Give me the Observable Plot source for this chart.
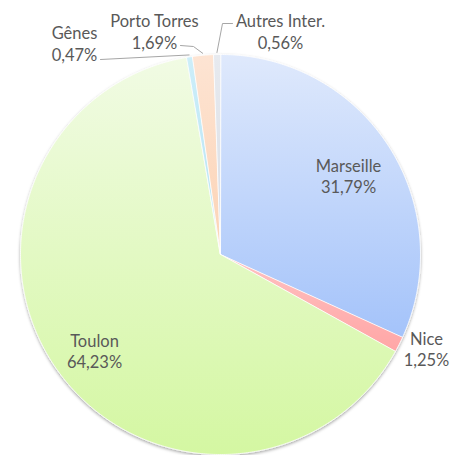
<!DOCTYPE html>
<html>
<head>
<meta charset="utf-8">
<script src="https://cdn.jsdelivr.net/npm/d3@7"></script>
<script src="https://cdn.jsdelivr.net/npm/@observablehq/plot@0.6"></script>
<style>
  html, body { margin: 0; padding: 0; background: #fff; }
  #chart svg { display: block; }
</style>
</head>
<body>
<div id="chart"></div>
<script>
// ---- data ----
const categories = ["Marseille", "Nice", "Toulon", "Gênes", "Porto Torres", "Autres Inter."];
const values = [31.79, 1.25, 64.23, 0.47, 1.69, 0.56];

// ---- style (gradient top / bottom per slice) ----
const gradTop = ["#dfe9fc", "#ffc2c2", "#f1fbe4", "#cdeef9", "#fde4d3", "#e7eaef"];
const gradBottom = ["#a4c3fa", "#ffa6a6", "#d4f7a2", "#b5e3f4", "#fcd3b5", "#d9dde4"];

// ---- layout (label centers and leader points, unit-circle coords, y down) ----
const labelPos = [[0.64, -0.395], [1.03, 0.47], [-0.63, 0.48], [-0.73, -1.0575], [-0.33, -1.1175], [0.30, -1.1175]];
const leaderStart = [null, null, null, [[-0.60, -0.975]], [[-0.20, -1.045], [-0.135, -1.04]], [[0.06, -1.155], [0.01, -1.155]]];

const fmt = v => d3.format(".2f")(v).replace(".", ",") + "%";

const pie = d3.pie().sort(null).value(d => d.value);
const rows = categories.map((c, i) => ({name: c, value: values[i], i}));
const arcs = pie(rows);

function sector(a) {
  const n = Math.max(2, Math.ceil((a.endAngle - a.startAngle) / 0.01));
  const pts = [[0, 0]];
  for (let k = 0; k <= n; k++) {
    const t = a.startAngle + (a.endAngle - a.startAngle) * k / n;
    pts.push([Math.sin(t), -Math.cos(t)]);
  }
  pts.push([0, 0]);
  return {type: "Feature", properties: {i: a.data.i}, geometry: {type: "Polygon", coordinates: [pts]}};
}
const sectors = arcs.map(sector);

const leaders = [];
arcs.forEach((a, i) => {
  if (!leaderStart[i]) return;
  const m = (a.startAngle + a.endAngle) / 2;
  const end = [1.01 * Math.sin(m), -1.01 * Math.cos(m)];
  leaders.push({type: "Feature", geometry: {type: "LineString", coordinates: [...leaderStart[i], end]}});
});

const labelRows = arcs.map((a, i) => ({
  x: labelPos[i][0], y: labelPos[i][1],
  text: a.data.name + "\n" + fmt(a.data.value)
}));

const projection = d3.geoIdentity().translate([220, 254]).scale(200);

const plot = Plot.plot({
  width: 465,
  height: 455,
  margin: 0,
  projection,
  style: {background: "#fff", overflow: "visible"},
  marks: [
    Plot.geo(sectors, {fill: d => `url(#grad${d.properties.i})`, stroke: "#fff", strokeWidth: 0.8}),
    Plot.geo(leaders, {stroke: "#a6a6a6", strokeWidth: 1, fill: "none"}),
    Plot.text(labelRows, {x: "x", y: "y", text: "text", fontSize: 16.5, lineHeight: 1.33,
      fill: "#595959", fontFamily: "Lato, 'Open Sans', sans-serif"})
  ]
});

// gradient + shadow defs
const svgNS = "http://www.w3.org/2000/svg";
const defs = document.createElementNS(svgNS, "defs");
categories.forEach((c, i) => {
  const lg = document.createElementNS(svgNS, "linearGradient");
  lg.setAttribute("id", "grad" + i);
  lg.setAttribute("x1", "0"); lg.setAttribute("y1", "0");
  lg.setAttribute("x2", "0"); lg.setAttribute("y2", "1");
  [[0, gradTop[i]], [1, gradBottom[i]]].forEach(([o, col]) => {
    const s = document.createElementNS(svgNS, "stop");
    s.setAttribute("offset", o);
    s.setAttribute("stop-color", col);
    lg.appendChild(s);
  });
  defs.appendChild(lg);
});
const filt = document.createElementNS(svgNS, "filter");
filt.setAttribute("id", "pieShadow");
filt.setAttribute("x", "-10%"); filt.setAttribute("y", "-10%");
filt.setAttribute("width", "120%"); filt.setAttribute("height", "120%");
const ds = document.createElementNS(svgNS, "feDropShadow");
ds.setAttribute("dx", "0"); ds.setAttribute("dy", "1.5");
ds.setAttribute("stdDeviation", "1.5");
ds.setAttribute("flood-color", "#000");
ds.setAttribute("flood-opacity", "0.35");
filt.appendChild(ds);
defs.appendChild(filt);
plot.insertBefore(defs, plot.firstChild);
const geoGroup = plot.querySelector("g[aria-label='geo']");
if (geoGroup) geoGroup.setAttribute("filter", "url(#pieShadow)");

document.getElementById("chart").appendChild(plot);
</script>
</body>
</html>
